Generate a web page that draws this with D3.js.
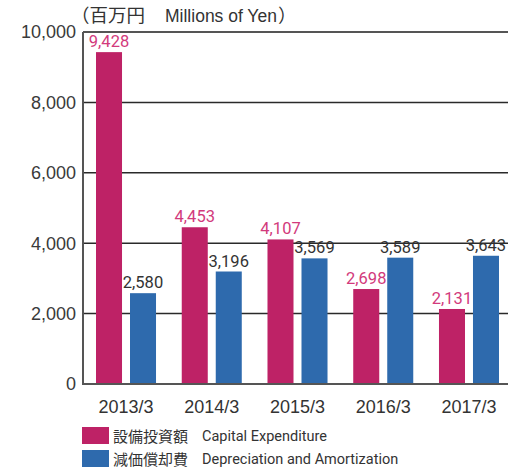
<!DOCTYPE html>
<html>
<head>
<meta charset="utf-8">
<script src="https://cdn.jsdelivr.net/npm/d3@7"></script>
<style>
  body { margin: 0; background: #fff; }
  svg { display: block; }
  .vlabel { font-family: Roboto, "Liberation Sans", Arial, sans-serif; }
</style>
</head>
<body>
<div id="chart"></div>
<script>
// values (millions of yen)
const years = ["2013/3", "2014/3", "2015/3", "2016/3", "2017/3"];
const capex = [9428, 4453, 4107, 2698, 2131];
const depreciation = [2580, 3196, 3569, 3589, 3643];
const yTicks = [0, 2000, 4000, 6000, 8000, 10000];

const seriesNames = ["capex", "dep"];
const legendJa = ["設備投資額", "減価償却費"];
const legendEn = ["Capital Expenditure", "Depreciation and Amortization"];

const width = 508, height = 471;
const barColor = { capex: "#be2266", dep: "#2e6aad" };
const labelColor = { capex: "#d23a7c", dep: "#333333" };

const svg = d3.select("#chart").append("svg")
    .attr("width", width)
    .attr("height", height);

const y = d3.scaleLinear().domain([0, 10000]).range([384, 32]);

const x = d3.scaleBand().domain(years).range([96, 499]).paddingInner(0.3).paddingOuter(0);
const xs = d3.scaleBand().domain(seriesNames).range([0, x.bandwidth()]).paddingInner(0.235);

// Gridlines
svg.append("g").selectAll("line")
    .data(yTicks.filter(t => t > 0 && t < 10000))
    .enter().append("line")
    .attr("x1", 83).attr("x2", width)
    .attr("y1", d => y(d)).attr("y2", d => y(d))
    .attr("stroke", "#2a2a2a").attr("stroke-width", 1.5);

// Top line
svg.append("line").attr("x1", 83).attr("x2", width)
    .attr("y1", y(10000)).attr("y2", y(10000))
    .attr("stroke", "#555").attr("stroke-width", 2);

// Y tick labels
svg.append("g").selectAll("text")
    .data(yTicks)
    .enter().append("text")
    .attr("x", 76)
    .attr("y", d => y(d))
    .attr("dy", "0.36em")
    .attr("text-anchor", "end")
    .attr("font-family", "Liberation Sans, Arial, sans-serif")
    .attr("font-size", 18)
    .attr("fill", "#3a3a3a")
    .text(d => d3.format(",")(d));

// Bars
const rows = years.map((yr, i) => ({ year: yr, capex: capex[i], dep: depreciation[i] }));
const groups = svg.append("g").selectAll("g")
    .data(rows)
    .enter().append("g")
    .attr("transform", d => `translate(${x(d.year)},0)`);

const cells = groups.selectAll("g")
    .data(d => seriesNames.map(k => ({ key: k, value: d[k] })))
    .enter().append("g");

cells.append("rect")
    .attr("x", d => xs(d.key))
    .attr("y", d => y(d.value))
    .attr("width", xs.bandwidth())
    .attr("height", d => y(0) - y(d.value))
    .attr("fill", d => barColor[d.key]);

cells.append("text")
    .attr("class", "vlabel")
    .attr("x", d => xs(d.key) + xs.bandwidth() / 2)
    .attr("y", d => y(d.value) - 5)
    .attr("text-anchor", "middle")
    .attr("font-size", 16.5)
    .attr("fill", d => labelColor[d.key])
    .text(d => d3.format(",")(d.value));

// axes lines
svg.append("line").attr("x1", 83).attr("x2", 83)
    .attr("y1", y(10000)).attr("y2", y(0))
    .attr("stroke", "#555").attr("stroke-width", 2);
svg.append("line").attr("x1", 82).attr("x2", width)
    .attr("y1", y(0)).attr("y2", y(0))
    .attr("stroke", "#555").attr("stroke-width", 2);

// X labels
svg.append("g").selectAll("text")
    .data(years)
    .enter().append("text")
    .attr("x", d => x(d) + x.bandwidth() / 2)
    .attr("y", 413)
    .attr("text-anchor", "middle")
    .attr("font-family", "Liberation Sans, Arial, sans-serif")
    .attr("font-size", 18)
    .attr("fill", "#333")
    .text(d => d);

// Unit title: one text, pieces as tspans
const title = svg.append("text")
    .attr("x", 71)
    .attr("y", 22)
    .attr("fill", "#333");
title.append("tspan")
    .attr("font-family", "'Noto Sans CJK JP', sans-serif")
    .attr("font-size", 18.5)
    .text("（百万円");
title.append("tspan")
    .attr("dx", 20)
    .attr("font-family", "Liberation Sans, Arial, sans-serif")
    .attr("font-size", 17.5)
    .text("Millions of Yen");
title.append("tspan")
    .attr("dx", 1)
    .attr("font-family", "'Noto Sans CJK JP', sans-serif")
    .attr("font-size", 18.5)
    .text("）");

// Legend
const legend = svg.append("g").selectAll("g")
    .data(seriesNames)
    .enter().append("g")
    .attr("transform", (d, i) => `translate(82,${427 + i * 23})`);

legend.append("rect")
    .attr("width", 27).attr("height", 17)
    .attr("fill", d => barColor[d]);

legend.append("text")
    .attr("x", 31).attr("y", 14.5)
    .attr("font-family", "'Noto Sans CJK JP', sans-serif")
    .attr("font-size", 15)
    .attr("fill", "#333")
    .text((d, i) => legendJa[i]);

legend.append("text")
    .attr("class", "vlabel")
    .attr("x", 120).attr("y", 14)
    .attr("font-size", 14.5)
    .attr("fill", "#333")
    .text((d, i) => legendEn[i]);
</script>
</body>
</html>
